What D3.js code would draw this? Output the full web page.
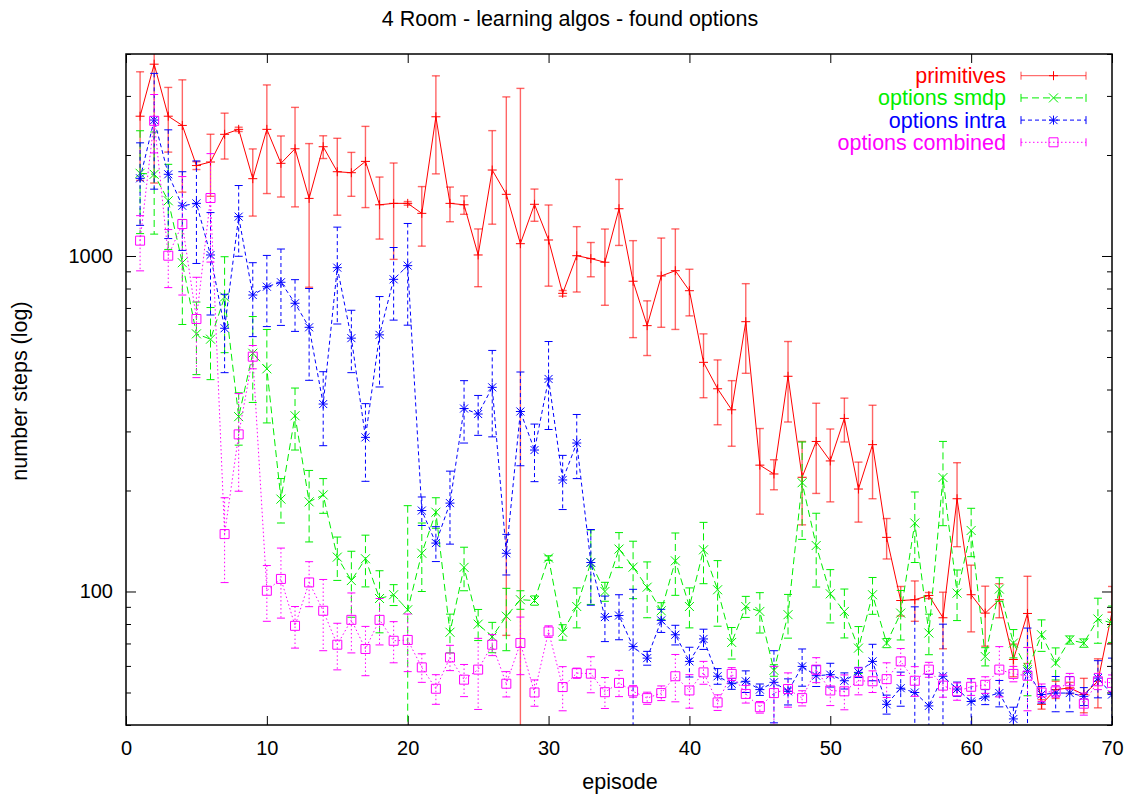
<!DOCTYPE html>
<html>
<head>
<meta charset="utf-8">
<script src="https://cdn.jsdelivr.net/npm/d3@7"></script>
<style>
  body { margin: 0; background: #fff; }
  svg { display: block; }
  text { font-family: "Liberation Sans", Arial, Helvetica, sans-serif; }
</style>
</head>
<body>
<svg id="chart" width="1139" height="799"></svg>
<script>
// ---- data: mean number of steps per episode and its standard deviation ----
const episodes = d3.range(1, 71);

const primitivesMean = [
  2610, 3730, 2610, 2450, 1860, 1906, 2305, 2385, 1700, 2385,
  1889, 2087, 1485, 2117, 1783, 1771, 1914, 1421, 1435, 1435,
  1340, 2600, 1435, 1421, 1007, 1804, 1527, 1088, 1426, 1116,
  774, 1002, 982, 958, 1383, 841, 620, 872, 904, 788,
  482, 402, 348, 637, 238, 224, 438, 219, 280, 245,
  328, 202, 274, 145, 94, 94.5, 97.3, 83.5, 189, 97.8,
  86.2, 94.5, 62.7, 86, 46.1, 51, 51.6, 49.3, 54, 86.8
];
const primitivesStd = [
  930, 2080, 570, 900, 50, 400, 360, 35, 385, 850,
  390, 686, 678, 165, 460, 265, 520, 298, 458, 18,
  270, 843, 170, 90, 197, 560, 1453, 2071, 157, 303,
  15, 221, 115, 245, 308, 270, 115, 259, 300, 125,
  104, 88, 77, 190, 68, 23, 118, 61, 84, 60,
  49, 41, 85, 20, 9.5, 13, 2, 16, 53, 22,
  17.5, 11, 7, 25, 1.5, 3, 2, 5.8, 9, 16.7
];

const smdpMean = [
  1764, 1752, 1461, 955, 586, 565, 755, 332, 513, 461,
  188.5, 334, 185, 194, 126.6, 107.8, 125.2, 95.3, 97.8, 88.2,
  130, 172.3, 75.6, 118, 79.9, 73.3, 84.4, 94.5, 94, 125.8,
  75.6, 90.2, 122, 100, 133.8, 118.2, 103, 87.6, 123.4, 90.2,
  133.1, 101.2, 70.5, 90.2, 87.2, 58.2, 85.3, 211, 137.1, 98.4,
  87.2, 67.8, 97.8, 70.2, 86.2, 160, 75.2, 218.6, 98.9, 152,
  64, 101.7, 70.2, 58.5, 74.3, 61.2, 71.7, 70.2, 82.8, 80.5
];
const smdpStd = [
  598, 590, 415, 330, 143, 137, 240, 59, 147, 143,
  28.5, 70, 44.5, 23, 18.7, 24, 22, 20, 7, 92,
  30, 18, 10, 17.5, 8.5, 7.6, 17.8, 6, 3, 2,
  4, 12.3, 30.5, 6.5, 16, 23, 19.5, 5, 26, 12.3,
  27.6, 22.4, 7.6, 6.5, 12, 2.3, 12.7, 68, 34, 17.8,
  14.5, 10.8, 12.3, 2.2, 14.5, 38, 10.4, 61.5, 17, 25,
  4, 8.2, 6.8, 9.6, 8, 6.7, 2, 2, 12.7, 10
];

const intraMean = [
  1704, 2542, 1752, 1411, 1435, 1007, 609, 1310, 765, 810,
  835, 723, 613, 362, 923, 569, 288, 582, 852, 936,
  174.3, 139.4, 183.4, 351, 338, 406, 130, 344, 264, 430,
  215, 277, 122, 83.9, 84.8, 68.5, 63.3, 82, 74.3, 61.9,
  72.2, 55.9, 53.1, 54, 51, 53.6, 50.4, 59.8, 56.1, 56.5,
  54.2, 57.4, 61.9, 46.1, 51.5, 50, 45.6, 55.9, 51.2, 47,
  48.5, 49.8, 41.7, 57.8, 49.3, 49.8, 49.8, 48.7, 55.2, 49.3
];
const intraStd = [
  470, 960, 625, 372, 485, 340, 160, 312, 190, 194,
  214, 127, 187, 90, 296, 120, 75, 175, 208, 314,
  17, 16.6, 45, 74, 46, 117, 18, 107, 51.5, 126,
  39.5, 60, 31, 13, 13, 33, 3, 6.5, 5, 6.3,
  5, 3, 2, 4, 2, 13, 4.5, 7.6, 4, 4.6,
  3, 2, 7.7, 3, 6, 40, 11, 24, 2.5, 8,
  2.5, 4.5, 3.5, 20, 2.8, 6, 6, 3, 7, 14
];

const combinedMean = [
  1111, 2529, 1002, 1245, 649, 1489, 148.3, 294, 501, 100.5,
  109, 79, 106.4, 87.6, 69.4, 82.3, 67.4, 82.3, 71.3, 71.7,
  59.4, 51.3, 63.6, 54.6, 58.5, 69.4, 53.1, 70.2, 50, 76,
  51.9, 57.1, 56.9, 50.1, 53.4, 50.4, 48.1, 49.8, 55.9, 50.7,
  57.4, 46.7, 56.8, 49.5, 45.2, 49.8, 51.2, 48.1, 58.5, 50.7,
  50.4, 54.2, 54, 54.8, 61.9, 54.2, 58.5, 52.4, 50.4, 52,
  52.7, 58.5, 56.8, 56.1, 50, 50.4, 54, 46.3, 54, 53.4
];
const combinedStd = [
  208, 500, 197, 480, 215, 530, 42, 95, 40, 19,
  25.7, 11.2, 16.3, 21, 11, 16.7, 11.3, 13, 10, 14,
  5.8, 5.2, 5.5, 6, 14, 5, 4.6, 13.7, 4.5, 3,
  7.8, 2, 7, 5.3, 4.8, 2, 2, 2.5, 9, 5.8,
  4.5, 2.5, 2.5, 3, 1.8, 10, 6, 2.5, 5, 5,
  6, 5, 4, 6.5, 5.7, 5.5, 3, 4, 3, 3,
  3, 10, 3, 12, 3, 2, 3, 3.5, 3, 3
];

const seriesLabels = ["primitives", "options smdp", "options intra", "options combined"];
const xTickValues = [0, 10, 20, 30, 40, 50, 60, 70];
const yLabelTicks = [100, 1000];
const chartTitle = "4 Room - learning algos - found options";
const xAxisTitle = "episode";
const yAxisTitle = "number steps (log)";

// ---- layout ----
const svg = d3.select("#chart");
const plot = { left: 126, right: 1112, top: 54, bottom: 725 };
const FONT = 21.5;
const TICK_FONT = 20;

const x = d3.scaleLinear().domain([0, 70]).range([plot.left, plot.right]);
const y = d3.scaleLog().domain([40, 4000]).range([plot.bottom, plot.top]);

const styles = [
  { color: "#ff0000", dash: null,  marker: "plus"   },
  { color: "#00ee00", dash: "7,4", marker: "cross"  },
  { color: "#0000ff", dash: "4,3", marker: "star"   },
  { color: "#ff00ff", dash: "1.5,2.5", marker: "square" }
];
const means = [primitivesMean, smdpMean, intraMean, combinedMean];
const stds = [primitivesStd, smdpStd, intraStd, combinedStd];

const markerPath = {
  plus:   "M-4.5,0H4.5M0,-4.5V4.5",
  cross:  "M-4.5,-4.5L4.5,4.5M-4.5,4.5L4.5,-4.5",
  star:   "M-4.5,0H4.5M0,-4.5V4.5M-4,-4L4,4M-4,4L4,-4",
  square: "M-4.5,-4.5H4.5V4.5H-4.5Z"
};

// ---- axes (ticks point inwards, mirrored on all four sides) ----
const minorY = [];
[10, 100, 1000].forEach(d => { for (let k = 2; k <= 9; k++) { const v = k * d; if (v >= 40 && v <= 4000) minorY.push(v); } });

const axes = svg.append("g").attr("class", "axes");

axes.append("g")
  .attr("transform", `translate(0,${plot.bottom})`)
  .call(d3.axisBottom(x).tickValues(xTickValues).tickSizeInner(-9).tickSizeOuter(0).tickPadding(16).tickFormat(d3.format("d")));
axes.append("g")
  .attr("transform", `translate(0,${plot.top})`)
  .call(d3.axisTop(x).tickValues(xTickValues).tickSizeInner(-9).tickSizeOuter(0).tickFormat(""));
axes.append("g")
  .attr("transform", `translate(${plot.left},0)`)
  .call(d3.axisLeft(y).tickValues(yLabelTicks).tickSizeInner(-10).tickSizeOuter(0).tickPadding(13).tickFormat(d3.format("d")));
axes.append("g")
  .attr("transform", `translate(${plot.left},0)`)
  .call(d3.axisLeft(y).tickValues(minorY).tickSizeInner(-5).tickSizeOuter(0).tickFormat(""));
axes.append("g")
  .attr("transform", `translate(${plot.right},0)`)
  .call(d3.axisRight(y).tickValues(yLabelTicks).tickSizeInner(-10).tickSizeOuter(0).tickFormat(""));
axes.append("g")
  .attr("transform", `translate(${plot.right},0)`)
  .call(d3.axisRight(y).tickValues(minorY).tickSizeInner(-5).tickSizeOuter(0).tickFormat(""));

axes.selectAll(".domain").remove();
axes.selectAll(".tick line").attr("stroke", "#000").attr("stroke-width", 1);
axes.selectAll(".tick text").attr("font-size", TICK_FONT).attr("fill", "#000")
  .attr("font-family", '"Liberation Sans", Arial, Helvetica, sans-serif');

// ---- plot area clip ----
svg.append("defs").append("clipPath").attr("id", "plotClip")
  .append("rect")
  .attr("x", plot.left).attr("y", plot.top)
  .attr("width", plot.right - plot.left).attr("height", plot.bottom - plot.top);

const dataLayer = svg.append("g").attr("clip-path", "url(#plotClip)");

const line = d3.line().x(d => x(d.ep)).y(d => y(d.m));

means.forEach((mArr, si) => {
  const st = styles[si];
  const pts = episodes.map((ep, i) => ({ ep, m: mArr[i], s: stds[si][i] }));
  const g = dataLayer.append("g").attr("class", "series-" + si);

  // error bars with caps
  const eb = g.append("g")
    .attr("stroke", st.color).attr("stroke-width", si === 0 ? 1.4 : 1).attr("fill", "none")
    .attr("stroke-opacity", si === 0 ? 0.6 : 1);
  pts.forEach(p => {
    const hi = y(p.m + p.s);
    const lo = p.m - p.s > 1 ? y(p.m - p.s) : plot.bottom + 20;
    const cx = x(p.ep);
    eb.append("line").attr("x1", cx).attr("x2", cx).attr("y1", hi).attr("y2", lo)
      .attr("stroke-dasharray", st.dash);
    eb.append("line").attr("x1", cx - 4).attr("x2", cx + 4).attr("y1", hi).attr("y2", hi);
    eb.append("line").attr("x1", cx - 4).attr("x2", cx + 4).attr("y1", lo).attr("y2", lo);
  });

  // connecting line
  g.append("path").datum(pts)
    .attr("d", line)
    .attr("fill", "none").attr("stroke", st.color).attr("stroke-width", 1)
    .attr("stroke-dasharray", st.dash);

  // point markers
  g.selectAll("path.mk").data(pts).join("path")
    .attr("class", "mk")
    .attr("transform", d => `translate(${x(d.ep)},${y(d.m)})`)
    .attr("d", markerPath[st.marker])
    .attr("fill", "none").attr("stroke", st.color).attr("stroke-width", 1);
});

// ---- border ----
svg.append("rect")
  .attr("x", plot.left).attr("y", plot.top)
  .attr("width", plot.right - plot.left).attr("height", plot.bottom - plot.top)
  .attr("fill", "none").attr("stroke", "#000").attr("stroke-width", 1.5);

// ---- titles ----
svg.append("text").attr("x", 570).attr("y", 26).attr("text-anchor", "middle")
  .attr("font-size", FONT).attr("fill", "#000").text(chartTitle);
svg.append("text").attr("x", 620).attr("y", 789).attr("text-anchor", "middle")
  .attr("font-size", FONT).attr("fill", "#000").text(xAxisTitle);
svg.append("text").attr("transform", "translate(27,391) rotate(-90)").attr("text-anchor", "middle")
  .attr("font-size", FONT).attr("fill", "#000").text(yAxisTitle);

// ---- legend ----
const legend = svg.append("g");
seriesLabels.forEach((name, i) => {
  const st = styles[i];
  const cy = 75.7 + i * 22.2;
  legend.append("text").attr("x", 1006).attr("y", cy).attr("dy", "0.35em")
    .attr("text-anchor", "end").attr("font-size", FONT).attr("fill", st.color).text(name);
  const lg = legend.append("g").attr("stroke", st.color).attr("fill", "none").attr("stroke-width", 1)
    .attr("stroke-opacity", i === 0 ? 0.7 : 1);
  lg.append("line").attr("x1", 1021).attr("x2", 1086).attr("y1", cy).attr("y2", cy).attr("stroke-dasharray", st.dash);
  lg.append("line").attr("x1", 1021).attr("x2", 1021).attr("y1", cy - 4).attr("y2", cy + 4);
  lg.append("line").attr("x1", 1086).attr("x2", 1086).attr("y1", cy - 4).attr("y2", cy + 4);
  legend.append("path").attr("transform", `translate(1053.5,${cy})`).attr("d", markerPath[st.marker])
    .attr("fill", "none").attr("stroke", st.color).attr("stroke-width", 1);
});
</script>
</body>
</html>
